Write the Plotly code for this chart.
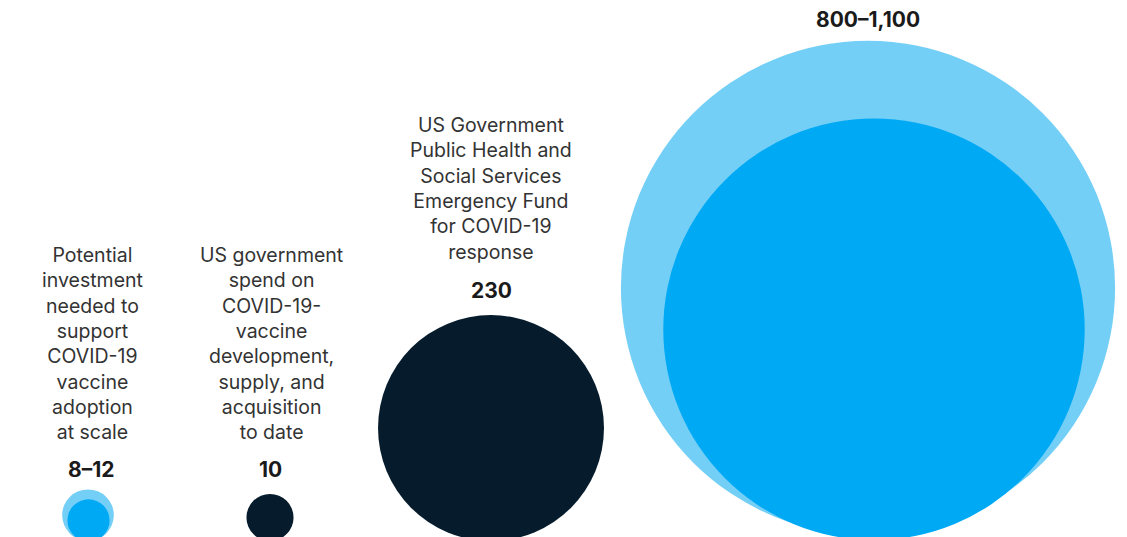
import math
import plotly.graph_objects as go

# Values in $ billion
labels = [
    "Potential<br>investment<br>needed to<br>support<br>COVID-19<br>vaccine<br>adoption<br>at scale",
    "US government<br>spend on<br>COVID-19-<br>vaccine<br>development,<br>supply, and<br>acquisition<br>to date",
    "US Government<br>Public Health and<br>Social Services<br>Emergency Fund<br>for COVID-19<br>response",
]
value_text = ["8–12", "10", "230", "800–1,100"]
low_values = [8, 10, 230, 800]
high_values = [12, 10, 230, 1100]

W, H = 1127, 537
LIGHT = "#74CFF7"
BRIGHT = "#00A9F4"
NAVY = "#061C2C"
TEXT = "#333333"
FONT = "Inter, Liberation Sans, Arial, sans-serif"

# circle area proportional to value
K = 7.45

def radius(v):
    return K * math.sqrt(v)

# layout: centre x and bottom edge (pixel space) for the high / low circles
centre_x_high = [88, 270, 491, 868]
centre_x_low = [88.5, 270, 491, 874]
bottom_high = [541, 541, 541, 535]
bottom_low = [541.5, 541, 541, 540]

shapes = []
for i in range(4):
    hi, lo = high_values[i], low_values[i]
    if hi != lo:
        r = radius(hi)
        cx, b = centre_x_high[i], bottom_high[i]
        shapes.append(dict(type="circle", xref="x", yref="y",
                           x0=cx - r, x1=cx + r, y0=b - 2 * r, y1=b,
                           fillcolor=LIGHT, line=dict(width=0), layer="below"))
        r = radius(lo)
        cx, b = centre_x_low[i], bottom_low[i]
        shapes.append(dict(type="circle", xref="x", yref="y",
                           x0=cx - r, x1=cx + r, y0=b - 2 * r, y1=b,
                           fillcolor=BRIGHT, line=dict(width=0), layer="below"))
    else:
        r = radius(hi)
        cx, b = centre_x_high[i], bottom_high[i]
        shapes.append(dict(type="circle", xref="x", yref="y",
                           x0=cx - r, x1=cx + r, y0=b - 2 * r, y1=b,
                           fillcolor=NAVY, line=dict(width=0), layer="below"))

annotations = []
label_pos = [(92, 343), (271, 343), (491, 188.5)]
for (x, y), t in zip(label_pos, labels):
    annotations.append(dict(x=x, y=y, xref="x", yref="y", text=t, showarrow=False,
                            xanchor="center", yanchor="middle", align="center",
                            font=dict(family=FONT, size=19.5, color=TEXT)))

value_pos = [(91, 469), (270, 469), (491, 290), (868, 19)]
for (x, y), t in zip(value_pos, value_text):
    annotations.append(dict(x=x, y=y, xref="x", yref="y", text="<b>" + t + "</b>",
                            showarrow=False, xanchor="center", yanchor="middle",
                            font=dict(family=FONT, size=21, color="#1a1a1a")))

fig = go.Figure()
fig.add_trace(go.Scatter(x=[0], y=[0], mode="markers", marker=dict(opacity=0),
                         hoverinfo="skip", showlegend=False))
fig.update_layout(
    width=W, height=H, margin=dict(l=0, r=0, t=0, b=0),
    paper_bgcolor="white", plot_bgcolor="white",
    xaxis=dict(range=[0, W], visible=False, fixedrange=True),
    yaxis=dict(range=[H, 0], visible=False, fixedrange=True),
    shapes=shapes, annotations=annotations, showlegend=False,
)
fig.write_html("out.html")
